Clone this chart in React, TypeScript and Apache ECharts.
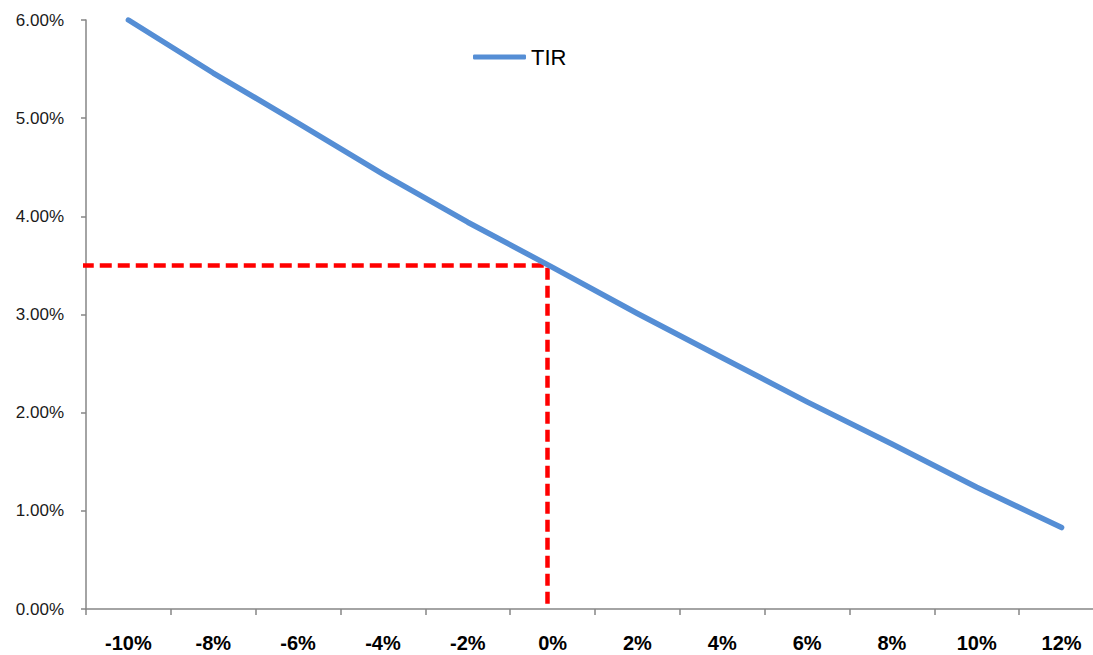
import React, { useEffect, useRef } from "react";
import * as echarts from "echarts";

const categories = ["-10%", "-8%", "-6%", "-4%", "-2%", "0%", "2%", "4%", "6%", "8%", "10%", "12%"];
const tirValues = [6.0, 5.46, 4.95, 4.43, 3.94, 3.48, 3.01, 2.56, 2.11, 1.68, 1.24, 0.83];
const refLinePoints: [number, number][] = [
  [-11.1, 3.5],
  [-0.12, 3.5],
  [-0.12, 0],
];

export default function App() {
  const ref = useRef<HTMLDivElement>(null);
  useEffect(() => {
    if (!ref.current) return;
    const chart = echarts.init(ref.current, undefined, { renderer: "svg" });
    chart.setOption({
      animation: false,
      backgroundColor: "#ffffff",
      legend: {
        data: [{ name: "TIR", icon: "roundRect" }],
        left: 473,
        top: 46,
        padding: 0,
        itemWidth: 53,
        itemHeight: 5,
        itemStyle: { color: "#558ED5" },
        textStyle: { fontFamily: "Liberation Sans", fontSize: 22, color: "#000" },
      },
      grid: { left: 86, top: 20, bottom: 46, right: -11, containLabel: false, outerBoundsMode: "none" },
      xAxis: [
        {
          type: "category",
          data: categories,
          boundaryGap: true,
          axisLine: { lineStyle: { color: "#868686", width: 1.5 } },
          axisTick: { show: true, interval: 0, length: 6, lineStyle: { color: "#868686", width: 1.5 } },
          axisLabel: {
            interval: 0,
            margin: 24,
            fontFamily: "Liberation Sans",
            fontWeight: "bold",
            fontSize: 20,
            lineHeight: 20,
            color: "#000",
          },
          splitLine: { show: false },
        },
        {
          type: "value",
          min: -11,
          max: 13,
          show: false,
        },
      ],
      yAxis: {
        type: "value",
        min: 0,
        max: 6,
        interval: 1,
        axisLine: { show: true, onZero: false, lineStyle: { color: "#868686", width: 1.5 } },
        axisTick: { show: true, length: 5, lineStyle: { color: "#868686", width: 1.5 } },
        axisLabel: {
          margin: 22,
          fontFamily: "Liberation Sans",
          fontSize: 17,
          color: "#1a1a1a",
          formatter: (v: number) => v.toFixed(2) + "%",
        },
        splitLine: { show: false },
      },
      series: [
        {
          name: "TIR",
          type: "line",
          data: tirValues,
          symbol: "none",
          lineStyle: { color: "#558ED5", width: 5.5, cap: "round", join: "round" },
          itemStyle: { color: "#558ED5" },
          z: 3,
        },
        {
          name: "ref",
          type: "line",
          xAxisIndex: 1,
          data: refLinePoints,
          symbol: "none",
          clip: false,
          lineStyle: { color: "#FF0000", width: 4.5, type: [12, 6] },
          z: 2,
        },
      ],
    });
    return () => chart.dispose();
  }, []);
  return (
    <div
      ref={ref}
      style={{ position: "absolute", left: 0, top: 0, width: 1093, height: 655 }}
    />
  );
}
